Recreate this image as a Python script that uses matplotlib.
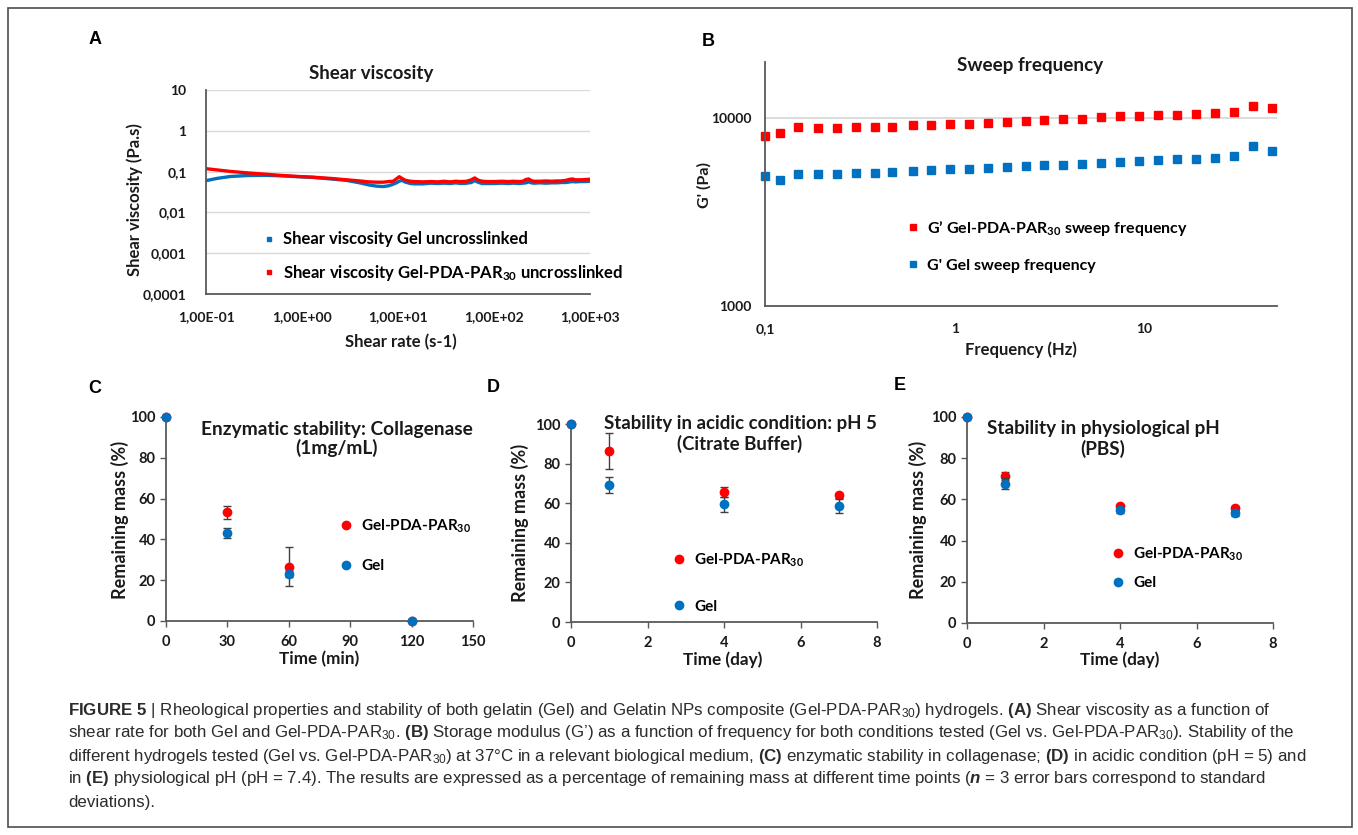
import numpy as np
import matplotlib
matplotlib.use('Agg')
import matplotlib.pyplot as plt
from matplotlib.lines import Line2D
from matplotlib.ticker import NullLocator

plt.rcParams['font.family'] = ['Lato', 'DejaVu Sans']
plt.rcParams['font.weight'] = 'bold'
plt.rcParams['mathtext.fontset'] = 'custom'
plt.rcParams['mathtext.rm'] = 'Liberation Sans'
plt.rcParams['mathtext.bf'] = 'Liberation Sans:bold'
plt.rcParams['mathtext.it'] = 'Liberation Sans:italic'
plt.rcParams['mathtext.default'] = 'regular'  # subscripts in the font of the text

# ---------------- data ----------------
# (A) shear viscosity
shear_rate = [0.1, 0.13, 0.18, 0.27, 0.4, 0.59, 0.9, 1.3, 2.0, 2.9, 4.0, 5.0, 6.0, 7.0, 8.0,
              8.9, 9.6, 10.3, 11.0, 12.0, 13.5, 15, 18, 22, 26, 30, 35, 40, 45, 52, 58, 63,
              68, 75, 85, 100, 120, 140, 160, 180, 200, 215, 230, 245, 260, 300, 350, 400,
              450, 500, 560, 620, 660, 700, 800, 900, 1000]
visc_gel = [0.060, 0.068, 0.076, 0.080, 0.081, 0.079, 0.075, 0.072, 0.066, 0.061, 0.053,
            0.047, 0.044, 0.043, 0.045, 0.049, 0.053, 0.058, 0.061, 0.055, 0.051, 0.050,
            0.050, 0.052, 0.051, 0.052, 0.051, 0.053, 0.051, 0.052, 0.054, 0.060, 0.055,
            0.051, 0.051, 0.051, 0.052, 0.051, 0.052, 0.051, 0.052, 0.053, 0.056, 0.053,
            0.052, 0.053, 0.052, 0.053, 0.053, 0.054, 0.054, 0.056, 0.057, 0.056, 0.057,
            0.057, 0.058]
visc_par = [0.118, 0.110, 0.101, 0.093, 0.087, 0.081, 0.076, 0.073, 0.068, 0.063, 0.059,
            0.056, 0.055, 0.055, 0.057, 0.058, 0.066, 0.075, 0.068, 0.061, 0.058, 0.057,
            0.056, 0.057, 0.056, 0.058, 0.056, 0.058, 0.057, 0.058, 0.063, 0.070, 0.062,
            0.058, 0.057, 0.057, 0.058, 0.057, 0.058, 0.057, 0.058, 0.064, 0.066, 0.060,
            0.058, 0.058, 0.059, 0.058, 0.059, 0.059, 0.061, 0.065, 0.066, 0.063, 0.063,
            0.064, 0.065]
a_xticks = [0.1, 1, 10, 100, 1000]
a_xticklabels = ['1,00E-01', '1,00E+00', '1,00E+01', '1,00E+02', '1,00E+03']
a_yticks = [0.0001, 0.001, 0.01, 0.1, 1, 10]
a_yticklabels = ['0,0001', '0,001', '0,01', '0,1', '1', '10']

# (B) frequency sweep
freq = [0.1, 0.12, 0.15, 0.19, 0.24, 0.3, 0.38, 0.47, 0.6, 0.75, 0.94, 1.19, 1.49, 1.88,
        2.37, 2.97, 3.73, 4.71, 5.94, 7.47, 9.41, 11.8, 14.9, 18.7, 23.7, 29.7, 37.3, 47.3]
g_par = [8110, 8320, 8950, 8880, 8880, 8950, 9030, 9030, 9180, 9210, 9290, 9360, 9440,
         9600, 9680, 9760, 9880, 9960, 10120, 10250, 10340, 10420, 10420, 10510, 10680,
         10860, 11690, 11360]
g_gel = [4960, 4700, 5040, 5040, 5060, 5100, 5140, 5210, 5270, 5320, 5360, 5400, 5450,
         5540, 5560, 5630, 5680, 5750, 5820, 5890, 5940, 5990, 6090, 6110, 6140, 6310,
         7170, 6720]
b_xticks = [0.1, 1, 10]
b_xticklabels = ['0,1', '1', '10']

# (C) collagenase
c_time = [0, 30, 60, 120]
c_gel = [100, 43.0, 23.2, 0]
c_gel_err = [0, 2.5, 1.5, 0]
c_par = [100, 53.2, 26.7, 0]
c_par_err = [0, 3.2, 9.4, 0]

# (D) citrate buffer pH 5
d_time = [0, 1, 4, 7]
d_gel = [100, 69.1, 59.5, 58.5]
d_gel_err = [0, 4.0, 3.7, 3.4]
d_par = [100, 86.2, 65.7, 63.9]
d_par_err = [0, 9.1, 2.4, 1.3]

# (E) PBS
e_time = [0, 1, 4, 7]
e_gel = [100, 67.7, 54.8, 53.2]
e_gel_err = [0, 2.7, 1.5, 1.3]
e_par = [100, 71.3, 56.8, 56.0]
e_par_err = [0, 2.0, 1.0, 1.0]

RED = '#FF0000'
BLUE = '#0070C0'
AXC = '#595959'
GRID = '#D9D9D9'
TXT = '#1a1a1a'

W, H = 1358, 835
fig = plt.figure(figsize=(W / 100, H / 100), dpi=100)


def box(l, t, r, b):
    return [l / W, 1 - b / H, (r - l) / W, (b - t) / H]


def px(x, y):
    return (x / W, 1 - y / H)


def ftext(x, y, s, **kw):
    kw.setdefault('ha', 'center')
    kw.setdefault('va', 'center')
    kw.setdefault('color', TXT)
    return fig.text(*px(x, y), s, **kw)


def style_axes(ax, ticks=True):
    for s in ['top', 'right']:
        ax.spines[s].set_visible(False)
    for s in ['left', 'bottom']:
        ax.spines[s].set_color(AXC)
        ax.spines[s].set_linewidth(1.3)
    if ticks:
        ax.tick_params(direction='out', length=4, width=1, color=AXC,
                       labelsize=10.5, labelcolor=TXT)
    else:
        ax.tick_params(length=0, labelcolor=TXT)


# outer frame
fig.add_artist(plt.Rectangle(px(8, 827), (1352 - 8) / W, (827 - 8) / H, fill=False,
                             ec='#4d4d4d', lw=1.2, transform=fig.transFigure))

# panel letters
for let, x, y in [('A', 95, 40), ('B', 708, 41), ('C', 95, 388), ('D', 493, 387), ('E', 900, 385)]:
    ftext(x, y, let, fontsize=13, family='Liberation Sans', weight='bold', color='black')

# ---------------- A ----------------
axA = fig.add_axes(box(206, 90, 590, 294))
axA.plot(shear_rate, visc_gel, color=BLUE, lw=2.4)
axA.plot(shear_rate, visc_par, color=RED, lw=2.4)
axA.set_xscale('log')
axA.set_yscale('log')
axA.set_xlim(0.1, 1000)
axA.set_ylim(0.0001, 10)
axA.set_xticks(a_xticks)
axA.set_xticklabels(a_xticklabels)
axA.set_yticks(a_yticks)
axA.set_yticklabels(a_yticklabels)
axA.xaxis.set_minor_locator(NullLocator())
axA.yaxis.set_minor_locator(NullLocator())
style_axes(axA, ticks=False)
axA.tick_params(labelsize=10)
axA.tick_params(axis='x', pad=12)
axA.tick_params(axis='y', pad=14)
axA.yaxis.grid(True, color=GRID, lw=1)
axA.set_axisbelow(True)
ftext(371, 73, 'Shear viscosity', fontsize=13.5)
ftext(401, 342, 'Shear rate (s-1)', fontsize=12)
ftext(135, 200, 'Shear viscosity (Pa.s)', fontsize=12, rotation=90)
hA = [Line2D([], [], ls='none', marker='s', ms=2.5, color=BLUE),
      Line2D([], [], ls='none', marker='s', ms=2.5, color=RED)]
axA.legend(hA, ['Shear viscosity Gel uncrosslinked',
                'Shear viscosity Gel-PDA-PAR$_{30}$ uncrosslinked'],
           loc='upper left', bbox_to_anchor=px(256, 223), bbox_transform=fig.transFigure,
           frameon=False, borderpad=0, handlelength=0.6, handletextpad=0.5,
           labelspacing=0.95, fontsize=12)

# ---------------- B ----------------
axB = fig.add_axes(box(765, 62, 1277, 306))
axB.plot(freq, g_gel, ls='none', marker='s', ms=5.5, color=BLUE, clip_on=False)
axB.plot(freq, g_par, ls='none', marker='s', ms=5.5, color=RED, clip_on=False)
axB.set_xscale('log')
axB.set_yscale('log')
axB.set_xlim(0.1, 50)
axB.set_ylim(1000, 20000)
axB.set_xticks(b_xticks)
axB.set_xticklabels(b_xticklabels)
axB.set_yticks([1000, 10000])
axB.set_yticklabels(['1000', '10000'])
axB.xaxis.set_minor_locator(NullLocator())
axB.yaxis.set_minor_locator(NullLocator())
style_axes(axB, ticks=False)
axB.tick_params(labelsize=10)
axB.tick_params(axis='x', pad=12)
axB.tick_params(axis='y', pad=10)
axB.yaxis.grid(True, color=GRID, lw=1.3)
axB.set_axisbelow(True)
ftext(1030, 66, 'Sweep frequency', fontsize=13.6)
ftext(1021, 350, 'Frequency (Hz)', fontsize=12)
ftext(704, 185, "G' (Pa)", fontsize=11.5, rotation=90)
hB = [Line2D([], [], ls='none', marker='s', ms=5, color=RED),
      Line2D([], [], ls='none', marker='s', ms=5, color=BLUE)]
axB.legend(hB, ['G\u2019 Gel-PDA-PAR$_{30}$ sweep frequency', "G' Gel sweep frequency"],
           loc='upper left', bbox_to_anchor=px(900, 211), bbox_transform=fig.transFigure,
           frameon=False, borderpad=0, handlelength=0.6, handletextpad=0.6,
           labelspacing=1.3, fontsize=11.5)


# ---------------- C, D, E ----------------
def stability(ax, t, gel, gel_err, par, par_err, xmax, xstep):
    ax.errorbar(t, par, yerr=par_err, fmt='o', ms=6, color=RED, ecolor='#404040',
                elinewidth=1, capsize=3, capthick=1, clip_on=False, zorder=3)
    ax.errorbar(t, gel, yerr=gel_err, fmt='o', ms=6, color=BLUE, ecolor='#404040',
                elinewidth=1, capsize=3, capthick=1, clip_on=False, zorder=4)
    ax.set_xlim(0, xmax)
    ax.set_ylim(0, 100)
    ax.set_xticks(np.arange(0, xmax + 1, xstep))
    ax.set_yticks(np.arange(0, 101, 20))
    style_axes(ax)
    ax.tick_params(axis='x', pad=6)


axC = fig.add_axes(box(166, 417, 473, 621))
stability(axC, c_time, c_gel, c_gel_err, c_par, c_par_err, 150, 30)
ftext(337, 439, 'Enzymatic stability: Collagenase\n(1mg/mL)', fontsize=13.8, linespacing=1.12)
ftext(319, 659, 'Time (min)', fontsize=12.3)
ftext(120, 520, 'Remaining mass (%)', fontsize=13, rotation=90)

axD = fig.add_axes(box(571, 424, 877, 622))
stability(axD, d_time, d_gel, d_gel_err, d_par, d_par_err, 8, 2)
ftext(740, 434, 'Stability in acidic condition: pH 5\n(Citrate Buffer)', fontsize=13.4,
      linespacing=1.17)
ftext(723, 660, 'Time (day)', fontsize=12.3)
ftext(520, 523, 'Remaining mass (%)', fontsize=13, rotation=90)

axE = fig.add_axes(box(967, 417, 1273, 623))
stability(axE, e_time, e_gel, e_gel_err, e_par, e_par_err, 8, 2)
ftext(1103, 439, 'Stability in physiological pH\n(PBS)', fontsize=13.6, linespacing=1.25)
ftext(1120, 660, 'Time (day)', fontsize=12.3)
ftext(918, 520, 'Remaining mass (%)', fontsize=13, rotation=90)

# legends of the stability panels
for ax, x, y, sp in [(axC, 332, 510, 1.6), (axD, 665, 544, 2.0), (axE, 1104, 538, 0.85)]:
    hs = [Line2D([], [], ls='none', marker='o', ms=6, color=RED),
          Line2D([], [], ls='none', marker='o', ms=6, color=BLUE)]
    ax.legend(hs, ['Gel-PDA-PAR$_{30}$', 'Gel'], loc='upper left', bbox_to_anchor=px(x, y),
              bbox_transform=fig.transFigure, frameon=False, borderpad=0,
              handlelength=0.8, handletextpad=0.6, labelspacing=sp, fontsize=11)

# ---------------- caption ----------------
caption = [
    r'$\mathbf{FIGURE\ 5}$ | Rheological properties and stability of both gelatin (Gel) and '
    r'Gelatin NPs composite (Gel-PDA-PAR$_{30}$) hydrogels. $\mathbf{(A)}$ Shear viscosity as a function of',
    r'shear rate for both Gel and Gel-PDA-PAR$_{30}$. $\mathbf{(B)}$ Storage modulus (G’) as a '
    r'function of frequency for both conditions tested (Gel vs. Gel-PDA-PAR$_{30}$). Stability of the',
    r'different hydrogels tested (Gel vs. Gel-PDA-PAR$_{30}$) at 37°C in a relevant biological '
    r'medium, $\mathbf{(C)}$ enzymatic stability in collagenase; $\mathbf{(D)}$ in acidic condition (pH = 5) and',
    r'in $\mathbf{(E)}$ physiological pH (pH = 7.4). The results are expressed as a percentage of '
    r'remaining mass at different time points ($\mathit{n}$ = 3 error bars correspond to standard',
    'deviations).',
]
cap_y = [710, 733, 756, 779, 802]
for line, y in zip(caption, cap_y):
    ftext(68, y, line, ha='left', fontsize=12.2, family='Liberation Sans', weight='normal',
          color='#2b2b2b')

fig.savefig('out.png', dpi=100)
